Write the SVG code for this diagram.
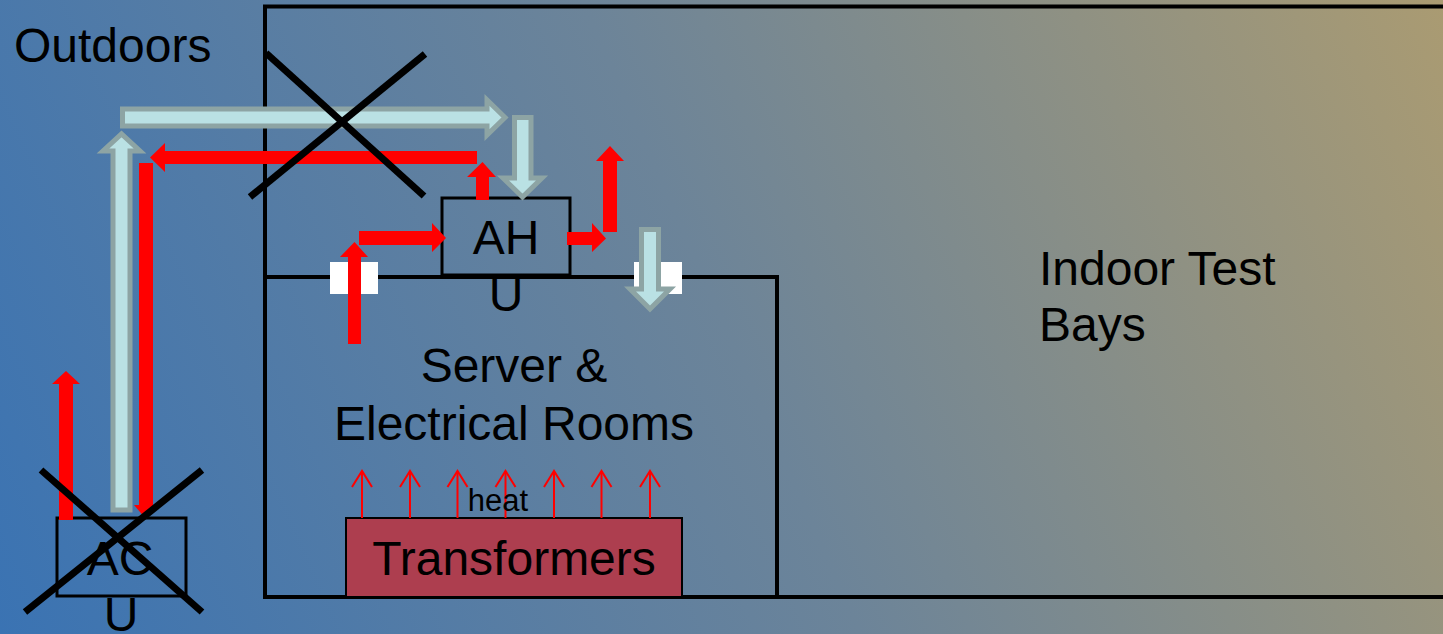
<svg xmlns="http://www.w3.org/2000/svg" width="1443" height="634" viewBox="0 0 1443 634">
<defs>
<linearGradient id="bg" gradientUnits="userSpaceOnUse" x1="0" y1="634" x2="1443" y2="0">
<stop offset="0" stop-color="#3a73b3"/>
<stop offset="0.5" stop-color="#6c8499"/>
<stop offset="1" stop-color="#aa9b72"/>
</linearGradient>
<marker id="heatHead" viewBox="0 0 20 24" refX="18" refY="12" markerWidth="20" markerHeight="24" markerUnits="userSpaceOnUse" orient="auto">
<path d="M2,2 L18,12 L2,22" fill="none" stroke="#ff0000" stroke-width="2"/>
</marker>
</defs>
<style>
.wall{fill:none;stroke:#000;stroke-width:4}
.box{fill:none;stroke:#000;stroke-width:3}
.cross{stroke:#000;stroke-width:7}
.air{fill:#bae1e4;stroke:#8da4a4;stroke-width:5}
.hot{fill:#ff0000}
.heat{stroke:#ff0000;stroke-width:2}
.t{font-family:"Liberation Sans",Arial,sans-serif;font-size:48px;fill:#000}
.tc{text-anchor:middle}
.damper{fill:#fff}
</style>
<rect width="1443" height="634" fill="url(#bg)"/>

<g id="building">
<path class="wall" d="M1450,6.5 H265 V597 H1450"/>
</g>
<g id="server-room">
<path class="wall" d="M265,277 H777 V597"/>
<text class="t tc" x="514" y="382">Server &amp;</text>
<text class="t tc" x="514" y="440">Electrical Rooms</text>
</g>
<g id="dampers">
<rect class="damper" x="330" y="262" width="48" height="32"/>
<rect class="damper" x="634" y="262" width="48" height="32"/>
</g>
<g id="outdoors">
<text class="t" x="14" y="62">Outdoors</text>
</g>
<g id="indoor-test-bays">
<text class="t" x="1039" y="285">Indoor Test</text>
<text class="t" x="1039" y="341">Bays</text>
</g>
<g id="transformers">
<rect x="346" y="518" width="336" height="79" fill="#ad3e4f" stroke="#000" stroke-width="2"/>
<text class="t tc" x="514" y="575">Transformers</text>
</g>
<g id="ah">
<rect class="box" x="442" y="198" width="128" height="77"/>
<text class="t tc" x="506" y="254">AH</text>
<text class="t tc" x="506" y="311">U</text>
</g>
<g id="ac">
<rect class="box" x="57" y="518" width="129" height="78"/>
<text class="t tc" x="120" y="575">AC</text>
<text class="t tc" x="121" y="631">U</text>
</g>

<g id="connectors">
<!-- fresh air (light) -->
<polygon class="air" points="113,510 113,151 103,151 121.5,134 140,151 130,151 130,510"/>
<polygon class="air" points="122.5,109 487,109 487,100 505,117.5 487,135 487,126 122.5,126"/>
<polygon class="air" points="514.5,117.5 531,117.5 531,178 542,178 522.5,197 503,178 514.5,178"/>
<polygon class="air" points="641.5,229.5 658.5,229.5 658.5,289 670,289 650,309 630,289 641.5,289"/>
<!-- hot air (red) -->
<polygon class="hot" points="476,200 476,177 467,177 482.5,162 496,177 489,177 489,200"/>
<polygon class="hot" points="477,151 165,151 165,143 150,157.5 165,172 165,164 477,164"/>
<polygon class="hot" points="139,163 153,163 153,505 158,505 146,519 134,505 139,505"/>
<polygon class="hot" points="59,520 59,384 52,384 66,371 80,384 73,384 73,520"/>
<polygon class="hot" points="348,344 348,257 340,257 354.5,242 368,257 361,257 361,344"/>
<polygon class="hot" points="359,231 432,231 432,223 446,238 432,252 432,245 359,245"/>
<polygon class="hot" points="567,232 592,232 592,223 606,238.5 592,252 592,245 567,245"/>
<polygon class="hot" points="603,232 603,161 596,161 610,146 624,161 617,161 617,232"/>
<!-- heat -->
<line class="heat" x1="362" y1="518" x2="362" y2="471" marker-end="url(#heatHead)"/>
<line class="heat" x1="410" y1="518" x2="410" y2="471" marker-end="url(#heatHead)"/>
<line class="heat" x1="457.5" y1="518" x2="457.5" y2="471" marker-end="url(#heatHead)"/>
<line class="heat" x1="505.5" y1="518" x2="505.5" y2="471" marker-end="url(#heatHead)"/>
<line class="heat" x1="554" y1="518" x2="554" y2="471" marker-end="url(#heatHead)"/>
<line class="heat" x1="601.5" y1="518" x2="601.5" y2="471" marker-end="url(#heatHead)"/>
<line class="heat" x1="650" y1="518" x2="650" y2="471" marker-end="url(#heatHead)"/>
</g>
<g id="heat-label">
<text class="t tc" x="498" y="511" style="font-size:31px">heat</text>
</g>
<g id="crosses">
<line class="cross" x1="266" y1="53" x2="424" y2="196"/>
<line class="cross" x1="425" y1="54" x2="250" y2="197"/>
<line class="cross" x1="41" y1="470" x2="202" y2="612"/>
<line class="cross" x1="202" y1="470" x2="25" y2="612"/>
</g>
</svg>
